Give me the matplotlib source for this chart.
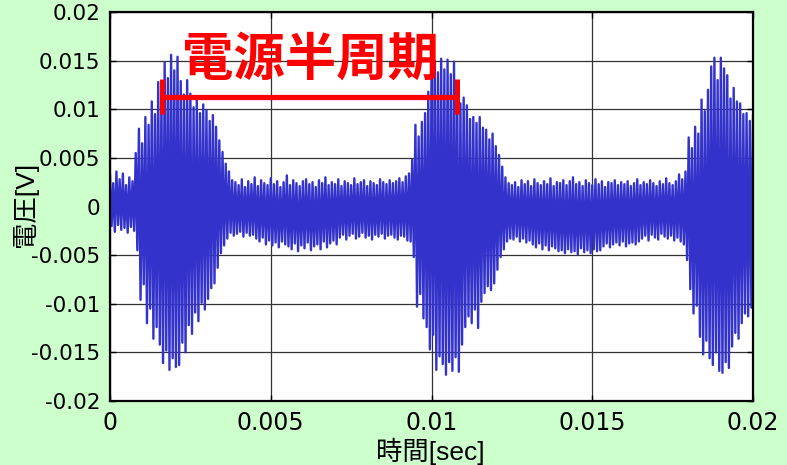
import numpy as np
import matplotlib
matplotlib.use("Agg")
import matplotlib.pyplot as plt

# Fonts: CJK family first, DejaVu as fallback
plt.rcParams['font.family'] = ['Noto Sans CJK JP', 'DejaVu Sans']

# sample times of the read envelope (ms), one every 0.1 ms
t_ms = [0.1 * i for i in range(201)]

# upper spike tips (mV)
hi_mv = [3.2, 2.4, 3.6, 2.8, 3.4, 2.2, 3.0, 2.6,
         5.5, 8.0, 6.5, 9.2, 8.4, 10.8, 9.5, 12.8, 11.5, 14.8, 13.2, 15.6,
         14.0, 15.4, 12.9, 11.5, 13.0, 11.6, 10.2, 11.0, 9.6, 10.5,
         9.9, 8.8, 9.4, 8.2, 6.8, 5.6, 4.4, 3.6, 2.7,
         # quiet part 3.9 - 9.2 ms
         2.5, 2.2, 2.8, 2.0, 2.6, 2.3, 3.0, 2.1, 2.7, 2.4,
         2.2, 2.9, 2.3, 2.6, 2.0, 2.5, 3.2, 2.2, 2.7, 2.4,
         2.1, 2.6, 2.8, 2.3, 2.5, 2.0, 2.7, 2.4, 3.0, 2.2,
         2.5, 2.3, 2.8, 2.1, 2.6, 2.4, 2.2, 2.9, 2.3, 2.5,
         2.7, 2.1, 2.6, 2.4, 2.2, 2.8, 2.5, 2.3, 2.7, 2.4,
         2.6, 2.9, 2.5, 3.1,
         # second burst
         3.4, 4.8, 8.4, 7.2, 8.7, 9.6, 11.8, 13.5, 15.0, 13.8,
         15.2, 14.1, 15.1, 13.6, 14.9, 12.7, 10.6, 11.2, 10.4, 9.0,
         9.2, 8.6, 9.2, 8.1, 7.9, 6.9, 7.5, 6.2, 5.3, 4.1,
         3.0, 2.4,
         # quiet part 12.5 - 17.8 ms
         2.2, 2.5, 2.0, 2.7, 2.3, 2.6, 2.1, 2.8, 2.4, 2.2,
         2.6, 2.3, 2.9, 2.1, 2.5, 2.4, 2.7, 2.2, 2.6, 3.0,
         2.3, 2.5, 2.1, 2.7, 2.4, 2.2, 2.8, 2.3, 2.6, 2.0,
         2.5, 2.4, 2.7, 2.2, 2.5, 2.3, 2.6, 2.1, 2.4, 2.8,
         2.2, 2.5, 2.3, 2.7, 2.4, 2.1, 2.6, 2.3, 2.9, 2.4,
         2.2, 2.6, 3.3, 2.8,
         # third burst
         3.6, 7.1, 6.0, 8.2, 7.5, 11.0, 9.8, 12.0, 14.4, 15.3,
         13.0, 15.3, 14.2, 13.5, 11.1, 12.2, 10.8, 10.6, 9.5, 9.6,
         8.8, 9.4]

# lower spike tips (mV)
lo_mv = [-2.0, -2.6, -1.9, -2.4, -2.2, -2.7, -2.1, -2.5,
         -4.5, -9.6, -8.0, -12.0, -10.5, -13.6, -12.4, -14.2, -16.1, -14.8, -16.8, -15.6,
         -16.5, -16.3, -14.0, -15.0, -12.2, -13.1, -10.9, -11.8, -9.9, -10.6,
         -9.5, -8.4, -7.9, -6.3, -4.8, -4.0, -3.3, -2.7, -3.0,
         # quiet part 3.9 - 9.2 ms
         -2.8, -2.6, -3.1, -2.7, -3.0, -2.9,
         -3.3, -3.6, -3.2, -3.9, -3.5, -4.0, -3.7, -4.2, -3.6, -3.9, -4.1,
         -4.4, -3.8, -4.6, -4.0, -4.3, -3.7, -4.5, -4.1, -3.9, -4.4, -3.6, -4.2, -3.8, -3.5, -3.9,
         -3.2, -2.9, -3.4, -3.0, -2.8, -3.3, -3.1, -2.7, -3.2, -3.0, -3.4,
         -2.9, -3.1, -2.8, -3.3, -3.0, -2.9, -3.2, -3.4, -3.0, -3.1, -3.5,
         # second burst
         -3.6, -5.2, -10.3, -9.0, -11.5, -12.4, -14.7, -13.2, -16.8, -15.4,
         -16.2, -17.3, -16.0, -16.9, -15.5, -17.0, -14.2, -12.4, -11.3, -12.0,
         -10.6, -12.5, -9.8, -8.9, -8.2, -8.6, -7.9, -6.5, -5.2, -4.4,
         -3.6, -3.3,
         # quiet part 12.5 - 17.8 ms
         -3.4, -3.1, -3.6, -3.3, -3.7, -3.5,
         -3.9, -4.2, -3.8, -4.4, -4.0, -4.5, -4.1, -4.3, -4.6,
         -4.5, -4.8, -4.4, -4.7, -4.6, -4.9, -4.3, -4.7, -4.5, -4.8, -4.4, -4.6, -4.5,
         -4.1, -3.8, -4.2, -3.9, -3.7, -4.0, -3.6, -4.1, -3.8, -3.7, -3.9, -3.6,
         -3.3, -3.0, -3.5, -2.9, -3.2, -3.4, -2.8, -3.1, -3.3, -3.0, -3.5, -3.2, -3.6, -3.9,
         # third burst
         -5.5, -8.5, -11.0, -10.2, -13.4, -15.2, -13.8, -15.6, -16.3, -15.0,
         -16.9, -17.1, -16.0, -16.6, -14.4, -13.0, -13.6, -12.0, -11.0, -11.3,
         -10.4, -9.0]

x_ticks = [0, 0.005, 0.01, 0.015, 0.02]
x_tick_labels = ["0", "0.005", "0.01", "0.015", "0.02"]
y_ticks = [-0.02, -0.015, -0.01, -0.005, 0, 0.005, 0.01, 0.015, 0.02]
y_tick_labels = ["-0.02", "-0.015", "-0.01", "-0.005", "0",
                 "0.005", "0.01", "0.015", "0.02"]

# half period bracket (sec) and its label
bracket_start = 0.00162
bracket_end = 0.0108
bracket_level = 0.01126
bracket_label = "電源半周期"

# zigzag: every upper tip followed by its lower tip half a step later
t_s = np.array(t_ms) / 1000.0
half = 0.00005
xs = np.column_stack([t_s, t_s + half]).ravel()
ys = np.column_stack([np.array(hi_mv), np.array(lo_mv)]).ravel() / 1000.0

fig = plt.figure(figsize=(7.87, 4.65), dpi=100, facecolor='#ccffcc')
ax = fig.add_axes([110/787, 1 - 401/465, 643/787, 389/465])
ax.set_facecolor('white')

ax.plot(xs, ys, color='#3333cc', lw=1.7)

ax.set_xlim(0, 0.02)
ax.set_ylim(-0.02, 0.02)
ax.set_xticks(x_ticks)
ax.set_xticklabels(x_tick_labels, family='DejaVu Sans', fontsize=17)
ax.set_yticks(y_ticks)
ax.set_yticklabels(y_tick_labels, family='DejaVu Sans', fontsize=15.5)
ax.tick_params(direction='in', length=4, width=1, top=True, right=True, pad=7)
ax.tick_params(axis='x', pad=7)
ax.grid(True, color='#333333', lw=0.9)
ax.set_axisbelow(True)
for sp in ax.spines.values():
    sp.set_linewidth(1.6)
    sp.set_color('black')

# red bracket for half period of the supply
ax.plot([bracket_start, bracket_end], [bracket_level, bracket_level], color='red', lw=3.8, solid_capstyle='butt')
ax.plot([bracket_start, bracket_start], [0.0095, 0.0131], color='red', lw=3.6, solid_capstyle='butt')
ax.plot([bracket_end, bracket_end], [0.0095, 0.0131], color='red', lw=3.6, solid_capstyle='butt')
ax.text(0.00622, 0.01517, bracket_label, color='red', fontsize=37, fontweight='bold', ha='center', va='center')

fig.text(430/787, 1 - 451/465, "時間[sec]", fontsize=19, ha='center', va='center',
         family=['Liberation Sans', 'Noto Sans CJK JP'])
fig.text(25/787, 1 - 204/465, "電圧[V]", fontsize=19, rotation=90, ha='center', va='center',
         family=['Liberation Sans', 'Noto Sans CJK JP'])

fig.savefig("out.png", dpi=100, facecolor=fig.get_facecolor())
